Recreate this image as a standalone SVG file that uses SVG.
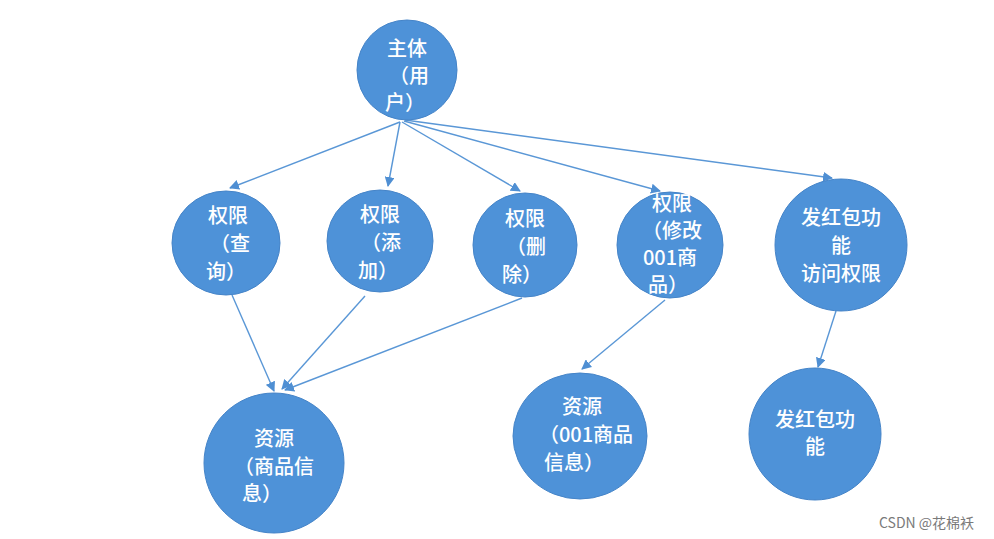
<svg xmlns="http://www.w3.org/2000/svg" width="994" height="539" viewBox="0 0 994 539">
<defs>
<marker id="arr" viewBox="0 0 10 10" refX="9" refY="5" markerWidth="10" markerHeight="10" markerUnits="userSpaceOnUse" orient="auto">
<path d="M0,0 L10,5 L0,10 z" fill="#4f8fd3"/>
</marker>
<style>
.node{fill:#4e92d8;stroke:#4584c8;stroke-width:1}
.t{fill:#ffffff;font-family:"Noto Sans CJK SC","Microsoft YaHei",sans-serif;font-size:20px;font-weight:500;text-anchor:middle;dominant-baseline:central}
.e{fill:none;stroke:#5a97d6;stroke-width:1.4;marker-end:url(#arr)}
.wm{fill:#7a7a7a;font-family:"Noto Sans CJK SC",sans-serif;font-size:14px}
</style>
</defs>
<rect width="994" height="539" fill="#ffffff"/>
<g id="connectors">
<line class="e" x1="400" y1="122" x2="230" y2="188"/>
<line class="e" x1="400" y1="122" x2="388" y2="186"/>
<line class="e" x1="402" y1="122" x2="520" y2="191"/>
<line class="e" x1="404" y1="121" x2="660" y2="191"/>
<line class="e" x1="405" y1="120" x2="832" y2="178"/>
<line class="e" x1="232" y1="295" x2="274" y2="391"/>
<line class="e" x1="365" y1="296" x2="282" y2="389"/>
<line class="e" x1="522" y1="298" x2="285" y2="390"/>
<line class="e" x1="665" y1="300" x2="582" y2="369"/>
<line class="e" x1="836" y1="311" x2="818" y2="367"/>
</g>
<g id="n-subject">
<circle class="node" cx="407" cy="70" r="50"/>
<text class="t" x="407" y="47">主体</text>
<text class="t" x="409" y="74">（用</text>
<text class="t" x="405" y="101">户）</text>
</g>
<g id="n-query">
<ellipse class="node" cx="226" cy="243" rx="54" ry="52"/>
<text class="t" x="228" y="214">权限</text>
<text class="t" x="230" y="242">（查</text>
<text class="t" x="226" y="270">询）</text>
</g>
<g id="n-add">
<ellipse class="node" cx="380" cy="241" rx="53" ry="51"/>
<text class="t" x="380" y="213">权限</text>
<text class="t" x="381" y="241">（添</text>
<text class="t" x="378" y="269">加）</text>
</g>
<g id="n-delete">
<ellipse class="node" cx="525" cy="245" rx="52" ry="52"/>
<text class="t" x="525" y="217">权限</text>
<text class="t" x="526" y="245">（删</text>
<text class="t" x="522" y="273">除）</text>
</g>
<g id="n-modify">
<ellipse class="node" cx="670" cy="245" rx="53" ry="53"/>
<text class="t" x="672" y="202">权限</text>
<text class="t" x="672" y="229">（修改</text>
<text class="t" x="670" y="256">001商</text>
<text class="t" x="668" y="283">品）</text>
</g>
<g id="n-redpacket-perm">
<circle class="node" cx="841" cy="245" r="66"/>
<text class="t" x="841" y="216">发红包功</text>
<text class="t" x="841" y="244">能</text>
<text class="t" x="841" y="272">访问权限</text>
</g>
<g id="n-res-goods">
<circle class="node" cx="274" cy="463" r="70"/>
<text class="t" x="274" y="437">资源</text>
<text class="t" x="274" y="465">（商品信</text>
<text class="t" x="262" y="492">息）</text>
</g>
<g id="n-res-001">
<ellipse class="node" cx="580" cy="436" rx="67" ry="63"/>
<text class="t" x="582" y="405">资源</text>
<text class="t" x="586" y="433">（001商品</text>
<text class="t" x="574" y="461">信息）</text>
</g>
<g id="n-redpacket">
<circle class="node" cx="815" cy="434" r="66"/>
<text class="t" x="815" y="418">发红包功</text>
<text class="t" x="815" y="445">能</text>
</g>
<text class="wm" x="879" y="528">CSDN @花棉袄</text>
</svg>
